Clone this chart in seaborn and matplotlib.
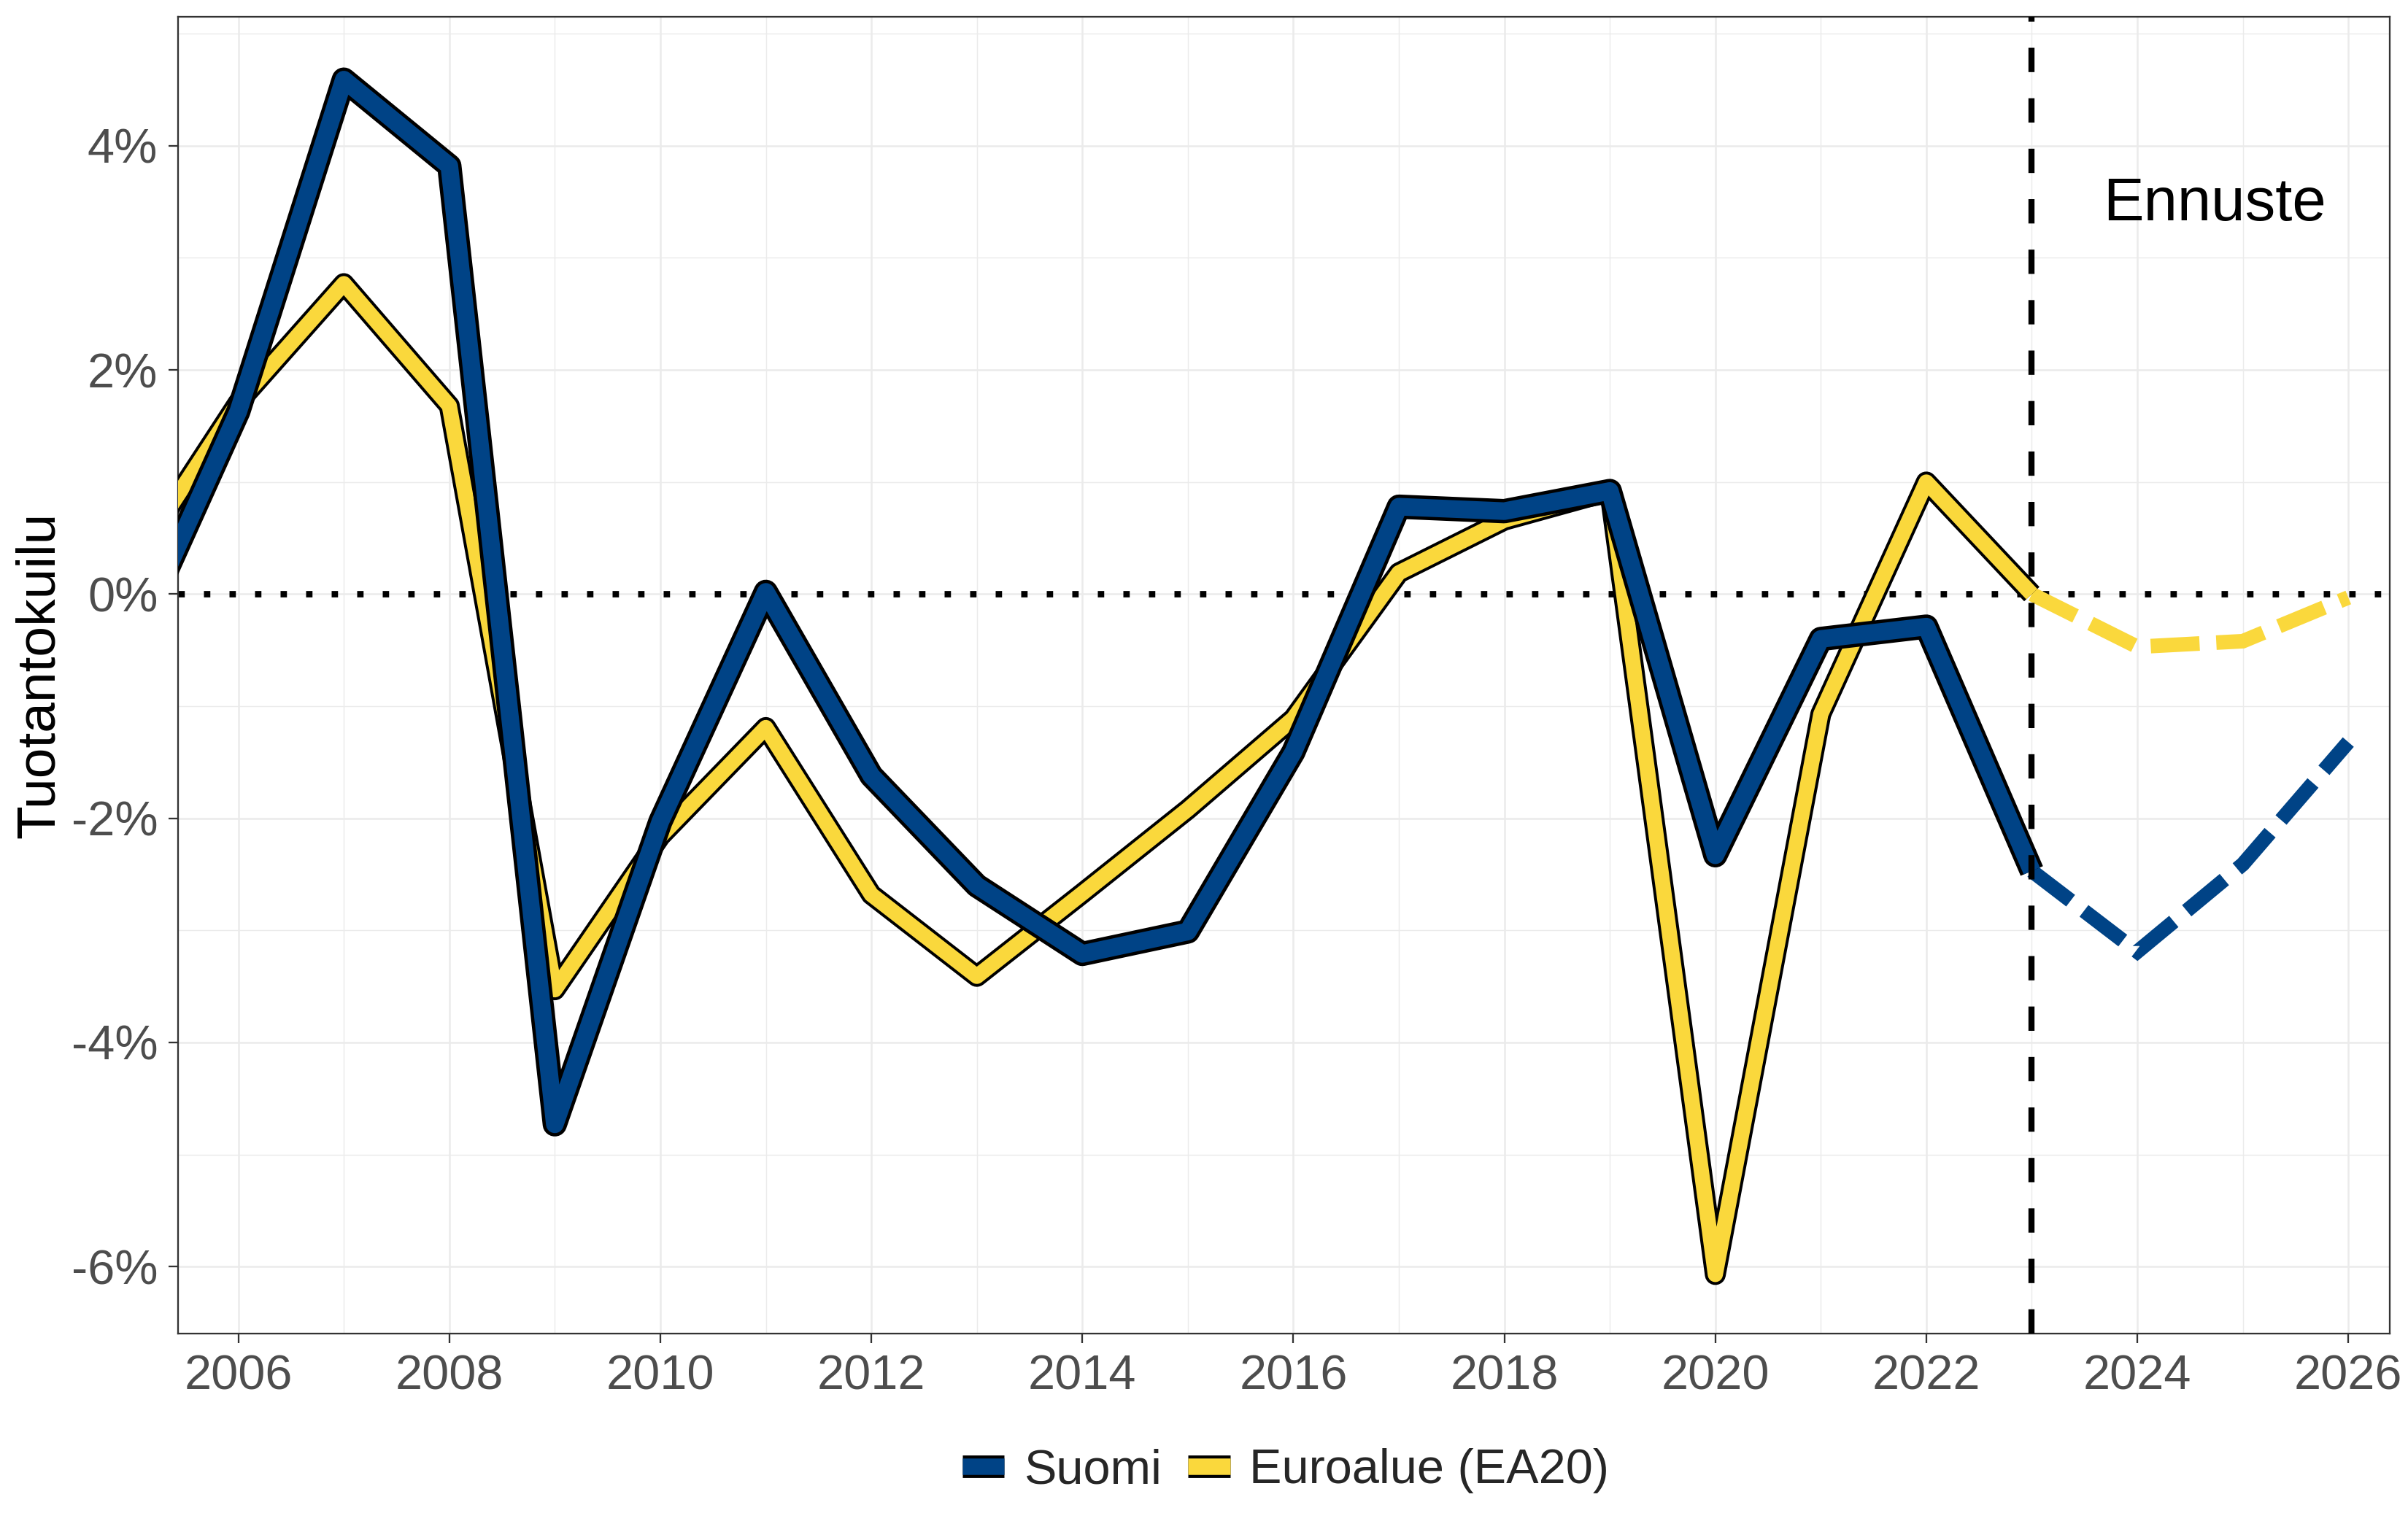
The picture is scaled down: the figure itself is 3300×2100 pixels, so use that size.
"""
Tuotantokuilu: Suomi vs. euroalue, toteuma ja ennuste.
"""

import matplotlib
matplotlib.use("Agg")
import matplotlib.pyplot as plt
import matplotlib.patheffects as pe
from matplotlib.lines import Line2D
from matplotlib.ticker import FuncFormatter, MultipleLocator
import pandas as pd
import seaborn as sns

# ===== data =====
YEARS_HIST = list(range(2005, 2024))
SUOMI_HIST = [-0.46, 1.63, 4.59, 3.82, -4.73, -2.03, 0.02, -1.62, -2.60, -3.21,
              -3.01, -1.41, 0.78, 0.74, 0.92, -2.33, -0.40, -0.29, -2.47]
EURO_HIST = [0.27, 1.71, 2.77, 1.68, -3.53, -2.16, -1.19, -2.68, -3.41, -2.67,
             -1.92, -1.11, 0.19, 0.66, 0.92, -6.07, -1.07, 1.00, 0.00]

YEARS_FC = [2023, 2024, 2025, 2026]
SUOMI_FC = [-2.47, -3.19, -2.41, -1.32]
EURO_FC = [0.00, -0.47, -0.42, -0.03]

SERIES = ["Suomi", "Euroalue (EA20)"]
FORECAST_START = 2023
X_TICKS = list(range(2006, 2027, 2))
Y_TICKS = [-6, -4, -2, 0, 2, 4]

BLUE = "#004386"
YELLOW = "#FAD83C"
COLORS = {"Suomi": BLUE, "Euroalue (EA20)": YELLOW}
# (inner, outline) line widths in pt
WIDTHS = {"Suomi": (5.8, 8.0), "Euroalue (EA20)": (5.0, 6.9)}
FC_WIDTH = 4.8

sns.set_theme(style="white")
plt.rcParams["font.family"] = ["Liberation Sans", "DejaVu Sans"]
plt.rcParams["axes.unicode_minus"] = False

hist_df = pd.DataFrame({
    "vuosi": YEARS_HIST * 2,
    "kuilu": SUOMI_HIST + EURO_HIST,
    "sarja": ["Suomi"] * len(YEARS_HIST) + ["Euroalue (EA20)"] * len(YEARS_HIST),
})
fc_df = pd.DataFrame({
    "vuosi": YEARS_FC * 2,
    "kuilu": SUOMI_FC + EURO_FC,
    "sarja": ["Suomi"] * len(YEARS_FC) + ["Euroalue (EA20)"] * len(YEARS_FC),
})

fig = plt.figure(figsize=(11, 7), dpi=300)
ax = fig.add_axes([0.074, 0.1293, 0.9183, 0.8597])

# grid
ax.xaxis.set_major_locator(MultipleLocator(2))
ax.xaxis.set_minor_locator(MultipleLocator(1))
ax.yaxis.set_major_locator(MultipleLocator(2))
ax.yaxis.set_minor_locator(MultipleLocator(1))
ax.grid(True, which="major", color="#ebebeb", linewidth=0.6)
ax.grid(True, which="minor", color="#ebebeb", linewidth=0.35)
ax.set_axisbelow(True)

# nollaviiva
ax.axhline(0, color="black", linewidth=2.1, linestyle=(0, (1, 3)), zorder=2)

# ennuste (katkoviiva, ei reunaviivaa)
for name in ["Euroalue (EA20)", "Suomi"]:
    sub = fc_df[fc_df["sarja"] == name]
    sns.lineplot(data=sub, x="vuosi", y="kuilu", ax=ax, color=COLORS[name],
                 linewidth=FC_WIDTH, linestyle=(0, (3.35, 1.15)),
                 dash_capstyle="butt", dash_joinstyle="miter", zorder=3,
                 legend=False)

# toteuma (reunustetut viivat), euroalue alle
for name in ["Euroalue (EA20)", "Suomi"]:
    inner, outer = WIDTHS[name]
    sub = hist_df[hist_df["sarja"] == name]
    sns.lineplot(data=sub, x="vuosi", y="kuilu", ax=ax, color=COLORS[name],
                 linewidth=inner, solid_joinstyle="round", solid_capstyle="butt",
                 path_effects=[pe.Stroke(linewidth=outer, foreground="black"), pe.Normal()],
                 zorder=4, legend=False)

ax.axvline(FORECAST_START, color="black", linewidth=2.0, linestyle=(0, (4, 4.3)), zorder=5)

ax.text(2024.73, 3.48, "Ennuste", fontsize=20, ha="center", va="center", color="black")

ax.set_xlim(2005.43, 2026.39)
ax.set_ylim(-6.60, 5.15)
ax.set_xticks(X_TICKS)
ax.set_yticks(Y_TICKS)
ax.yaxis.set_major_formatter(FuncFormatter(lambda v, _: f"{v:.0f}%"))
ax.tick_params(axis="both", which="major", labelsize=16, labelcolor="#4d4d4d",
               color="#333333", length=3.2, width=0.55, direction="out",
               bottom=True, left=True)
ax.tick_params(axis="both", which="minor", length=0)
ax.set_xlabel("")
ax.set_ylabel("Tuotantokuilu", fontsize=18, color="black", labelpad=2)

for sp in ax.spines.values():
    sp.set_color("#333333")
    sp.set_linewidth(0.55)

handles = []
for name in SERIES:
    h = Line2D([0], [0], color=COLORS[name], linewidth=5.4, solid_capstyle="butt",
               path_effects=[pe.Stroke(linewidth=7.4, foreground="black", capstyle="butt"), pe.Normal()])
    handles.append(h)
fig.legend(handles, SERIES, loc="center", bbox_to_anchor=(0.534, 0.040), ncol=2,
           frameon=False, fontsize=16, handlelength=0.86, handletextpad=0.4,
           columnspacing=0.55)

fig.savefig("out.png", dpi=300)
plt.close(fig)
